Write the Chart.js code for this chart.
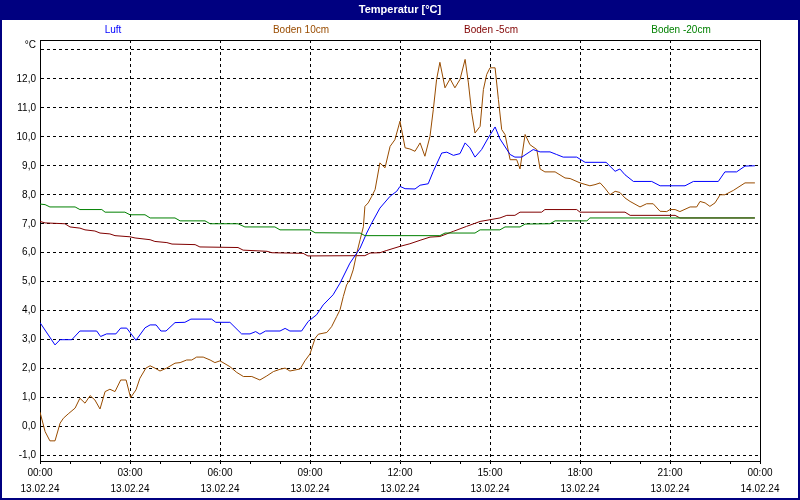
<!DOCTYPE html>
<html>
<head>
<meta charset="utf-8">
<script src="https://cdn.jsdelivr.net/npm/chart.js@4/dist/chart.umd.min.js"></script>
<style>
  html, body { margin: 0; padding: 0; background: #fff; }
  #c { display: block; }
</style>
</head>
<body>
<canvas id="c" width="800" height="500"></canvas>
<script>
// ---- data (hours since 13.02.24 00:00, °C) ----
const seriesNames = ['Luft', 'Boden 10cm', 'Boden -5cm', 'Boden -20cm'];

const luftT = [0,0.5,0.67,1.06,1.33,1.89,2.02,2.22,2.53,2.69,2.89,3.2,3.5,3.67,3.87,4.03,4.2,4.5,4.83,5.03,5.72,5.86,6.33,6.72,7.0,7.19,7.33,7.52,8.0,8.17,8.33,8.72,8.94,9.22,9.44,9.77,10.0,10.33,10.56,10.67,10.89,11.06,11.33,11.67,11.89,12.0,12.17,12.5,12.67,12.94,13.11,13.39,13.56,13.78,14.0,14.17,14.33,14.5,14.72,14.94,15.17,15.33,15.67,15.83,16.06,16.44,16.67,17.0,17.22,17.44,17.89,18.17,18.87,19.17,19.33,19.5,19.78,20.39,20.67,21.5,21.78,22.61,22.83,23.22,23.5,23.83];
const luftV = [3.59,2.82,3.0,3.0,3.3,3.3,3.11,3.2,3.2,3.4,3.4,2.98,3.41,3.51,3.51,3.3,3.3,3.59,3.6,3.71,3.71,3.6,3.6,3.2,3.2,3.28,3.19,3.3,3.3,3.39,3.3,3.3,3.63,3.86,4.2,4.55,4.95,5.64,5.99,6.16,6.68,7.03,7.54,7.95,8.12,8.29,8.21,8.2,8.33,8.38,8.81,9.44,9.47,9.36,9.42,9.79,9.62,9.3,9.56,9.96,10.34,9.93,9.39,9.3,9.3,9.56,9.48,9.48,9.39,9.3,9.3,9.12,9.12,8.81,8.89,8.69,8.46,8.46,8.31,8.31,8.46,8.46,8.79,8.79,8.99,9.0];

const boden10T = [0,0.17,0.33,0.5,0.67,0.78,0.94,1.17,1.33,1.5,1.67,1.83,2.0,2.17,2.33,2.5,2.69,2.87,3.02,3.2,3.33,3.53,3.67,3.83,4.0,4.22,4.5,4.67,4.89,5.06,5.22,5.44,5.67,5.83,6.0,6.33,6.56,6.78,7.06,7.33,7.56,7.78,8.0,8.17,8.33,8.67,8.83,9.0,9.17,9.28,9.56,9.72,9.89,10.0,10.11,10.22,10.33,10.44,10.56,10.67,10.78,10.83,10.94,11.06,11.17,11.33,11.5,11.67,11.83,12.0,12.17,12.33,12.5,12.67,12.83,13.0,13.11,13.22,13.33,13.5,13.67,13.83,14.0,14.17,14.28,14.39,14.5,14.67,14.78,14.89,15.0,15.17,15.28,15.39,15.5,15.67,15.89,16.0,16.17,16.33,16.56,16.67,16.83,17.17,17.5,17.67,18.0,18.33,18.5,18.67,18.83,19.0,19.17,19.33,19.5,19.67,20.0,20.22,20.44,20.67,20.89,21.0,21.17,21.33,21.67,21.89,22.0,22.17,22.33,22.5,22.67,22.83,23.11,23.5,23.83];
const boden10V = [0.5,-0.17,-0.49,-0.49,0.12,0.29,0.44,0.64,0.98,0.81,1.07,0.92,0.61,1.21,1.29,1.21,1.61,1.61,1.0,1.27,1.67,2.02,2.1,2.02,1.92,2.02,2.19,2.21,2.3,2.3,2.4,2.4,2.3,2.21,2.27,2.07,1.87,1.73,1.73,1.61,1.75,1.9,1.98,2.02,1.92,1.99,2.27,2.51,3.05,3.19,3.25,3.45,3.8,4.03,4.49,4.89,5.07,5.41,5.99,6.45,6.9,7.6,7.72,7.95,8.18,9.1,8.93,9.67,9.9,10.54,9.62,9.58,9.5,9.79,9.33,10.02,10.94,11.98,12.57,11.69,12.0,11.69,11.98,12.67,11.86,10.83,10.13,10.36,11.63,12.15,12.38,12.38,11.29,10.25,10.08,9.21,9.21,8.89,10.08,9.73,9.56,8.89,8.79,8.79,8.58,8.56,8.41,8.31,8.35,8.41,8.23,8.0,8.12,8.08,7.89,7.77,7.58,7.69,7.69,7.43,7.42,7.49,7.49,7.42,7.58,7.58,7.77,7.72,7.6,7.72,8.0,8.0,8.15,8.41,8.41];

const boden5T = [0,0.17,0.83,1.0,1.33,1.5,1.83,2.0,2.33,2.5,3.0,3.17,3.67,3.83,4.23,4.4,5.17,5.33,6.6,6.77,7.57,7.73,8.77,8.93,10.83,11.0,11.33,11.56,12.0,12.33,12.67,13.0,13.33,13.78,14.22,14.67,15.0,15.33,15.56,15.83,16.0,16.72,16.83,17.89,18.0,19.5,19.67,21.17,21.33,23.83];
const boden5V = [7.08,7.03,7.0,6.89,6.85,6.79,6.75,6.68,6.65,6.59,6.55,6.51,6.45,6.39,6.35,6.3,6.28,6.2,6.18,6.09,6.05,6.0,5.98,5.89,5.9,5.99,6.0,6.08,6.22,6.31,6.43,6.54,6.56,6.74,6.91,7.08,7.14,7.2,7.29,7.29,7.4,7.4,7.49,7.49,7.4,7.4,7.29,7.29,7.2,7.2];

const boden20T = [0,0.17,0.33,1.17,1.33,2.06,2.17,2.83,3.0,3.5,3.67,4.5,4.67,5.5,5.67,6.6,6.83,7.83,8.0,9.0,9.17,10.67,10.83,13.33,13.5,14.5,14.67,15.33,15.5,16.0,16.17,17.0,17.17,18.23,18.33,23.83];
const boden20V = [7.68,7.66,7.58,7.58,7.49,7.49,7.4,7.4,7.31,7.31,7.2,7.2,7.1,7.1,7.0,7.0,6.89,6.89,6.79,6.79,6.69,6.68,6.59,6.59,6.68,6.68,6.79,6.79,6.89,6.89,6.99,7.0,7.1,7.1,7.2,7.2];

const xTickHours = [0,1,2,3,4,5,6,7,8,9,10,11,12,13,14,15,16,17,18,19,20,21,22,23,24];
const xTickLabels = {0:['00:00','13.02.24'],3:['03:00','13.02.24'],6:['06:00','13.02.24'],9:['09:00','13.02.24'],12:['12:00','13.02.24'],15:['15:00','13.02.24'],18:['18:00','13.02.24'],21:['21:00','13.02.24'],24:['00:00','14.02.24']};
const yTickValues = [-1,0,1,2,3,4,5,6,7,8,9,10,11,12,13];

const colors = ['#0000ff', '#994c00', '#800000', '#008000'];
const FONT = "'Liberation Sans', Arial, sans-serif";

function pts(t, v) { return t.map((h, i) => ({x: h, y: v[i]})); }

const decor = {
  id: 'decor',
  beforeDraw(chart) {
    const c = chart.ctx;
    c.save();
    c.fillStyle = '#ffffff';
    c.fillRect(0, 0, 800, 500);
    c.restore();
  },
  afterDraw(chart) {
    const c = chart.ctx;
    const a = chart.chartArea;
    c.save();
    // frame around plot
    c.strokeStyle = '#000';
    c.lineWidth = 1;
    c.beginPath();
    c.moveTo(Math.round(a.left) + 0.5, Math.round(a.top) + 0.5);
    c.lineTo(Math.round(a.right) + 0.5, Math.round(a.top) + 0.5);
    c.lineTo(Math.round(a.right) + 0.5, Math.round(a.bottom) + 0.5);
    c.stroke();
    // title bar
    c.fillStyle = '#000080';
    c.fillRect(0, 0, 800, 20);
    c.fillStyle = '#ffffff';
    c.font = "bold 11px " + FONT;
    c.textAlign = 'center';
    c.textBaseline = 'middle';
    c.fillText('Temperatur [°C]', 400, 10);
    // outer border
    c.fillStyle = '#000080';
    c.fillRect(0, 0, 2, 500);
    c.fillRect(798, 0, 2, 500);
    c.fillRect(0, 498, 800, 2);
    // legend labels
    c.font = "10px " + FONT;
    const lx = [113, 301, 491, 681];
    seriesNames.forEach((n, i) => {
      c.fillStyle = colors[i];
      c.fillText(n, lx[i], 30);
    });
    // unit label
    c.fillStyle = '#000';
    c.textAlign = 'right';
    c.fillText('°C', 36, 45);
    c.restore();
  }
};

new Chart(document.getElementById('c'), {
  type: 'line',
  data: {
    datasets: [
      {label: seriesNames[0], data: pts(luftT, luftV), borderColor: colors[0], order: 1},
      {label: seriesNames[1], data: pts(boden10T, boden10V), borderColor: colors[1], order: 2},
      {label: seriesNames[2], data: pts(boden5T, boden5V), borderColor: colors[2], order: 3},
      {label: seriesNames[3], data: pts(boden20T, boden20V), borderColor: colors[3], order: 0}
    ].map(d => Object.assign(d, {borderWidth: 1, pointRadius: 0, tension: 0, fill: false}))
  },
  options: {
    responsive: false,
    animation: false,
    devicePixelRatio: 1,
    layout: {padding: {top: 40, left: 0, right: 40, bottom: 0}},
    plugins: {legend: {display: false}, title: {display: false}, tooltip: {enabled: false}},
    scales: {
      x: {
        type: 'linear',
        min: 0, max: 24,
        afterBuildTicks: s => { s.ticks = xTickHours.map(v => ({value: v})); },
        afterFit: s => { s.height = 39; },
        grid: {
          color: ctx => (ctx.tick && ctx.tick.value % 3 === 0) ? '#000' : 'rgba(0,0,0,0)',
          tickColor: '#000',
          tickLength: 3,
          lineWidth: 1,
          tickBorderDash: []
        },
        border: {display: true, color: '#000', width: 1, dash: [3, 3]},
        ticks: {
          autoSkip: false, maxRotation: 0, minRotation: 0, padding: 1,
          color: '#000',
          font: {family: FONT, size: 10, lineHeight: 1.6},
          callback: v => xTickLabels[v] || ''
        }
      },
      y: {
        min: -1.185, max: 13.34,
        afterBuildTicks: s => { s.ticks = yTickValues.map(v => ({value: v})); },
        afterFit: s => { s.width = 40; },
        grid: {color: '#000', lineWidth: 1, drawTicks: false},
        border: {display: true, color: '#000', width: 1, dash: [3, 3]},
        ticks: {
          padding: 4,
          color: '#000',
          font: {family: FONT, size: 10},
          callback: v => v === 13 ? '' : v.toFixed(1).replace('.', ',')
        }
      }
    }
  },
  plugins: [decor]
});
</script>
</body>
</html>
